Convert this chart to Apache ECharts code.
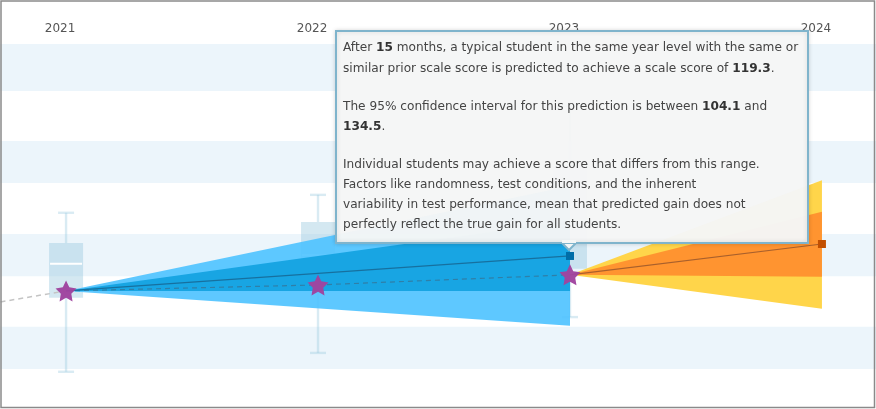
<!DOCTYPE html>
<html>
<head>
<meta charset="utf-8">
<script src="https://cdn.jsdelivr.net/npm/echarts@6/dist/echarts.min.js"></script>
<style>
  html, body { margin: 0; padding: 0; background: #fff; }
  #main { width: 876px; height: 409px; }
</style>
</head>
<body>
<div id="main"></div>
<script>
// band edges, scale score
var bandLow = [155.2, 135.2, 114.9, 94.7];
var bandHigh = [165.4, 144.3, 124.1, 103.9];

// box and whisker per year
var boxYears = [2021, 2022, 2023];
var whiskerHigh = [128.7, 132.6, 152];
var boxHigh = [122.1, 126.7, 139];
var boxMedian = [117.6, 119.5, 127];
var boxLow = [110.2, 113, 116.5];
var whiskerLow = [94.1, 98.2, 106];

// stars (actual scores)
var starYears = [2021, 2022, 2023];
var starScores = [111.7, 113, 115.2];
var priorTrail = [[2020, 102.5], [2021, 111.7]];

// predictions: from year/score to year, outer and inner range
var blueFan = { from: [2021, 111.7], to: 2023, mean: 119.3, lo: 104.1, hi: 134.5, innerLo: 111.7, innerHi: 126.9 };
var orangeFan = { from: [2023, 115.2], to: 2024, mean: 121.9, lo: 107.8, hi: 135.8, innerLo: 114.8, innerHi: 128.9 };

var yearTicks = { min: 2020, max: 2025, step: 1 };

var tipLines = [
  'After {b|15} months, a typical student in the same year level with the same or',
  'similar prior scale score is predicted to achieve a scale score of {b|119.3}.',
  '',
  'The 95% confidence interval for this prediction is between {b|104.1} and',
  '{b|134.5}.',
  '',
  'Individual students may achieve a score that differs from this range.',
  'Factors like randomness, test conditions, and the inherent',
  'variability in test performance, mean that predicted gain does not',
  'perfectly reflect the true gain for all students.'
];
var tipY = [48, 68.5, 0, 106.5, 126.5, 0, 165, 185, 204.5, 224.5];

var myChart = echarts.init(document.getElementById('main'));

function fanItem(fan, lightColor, darkColor) {
  return function (params, api) {
    var a = api.coord(fan.from);
    var lo = api.coord([fan.to, fan.lo]);
    var hi = api.coord([fan.to, fan.hi]);
    var inLo = api.coord([fan.to, fan.innerLo]);
    var inHi = api.coord([fan.to, fan.innerHi]);
    return {
      type: 'group',
      children: [
        { type: 'polygon', shape: { points: [a, hi, lo] }, style: { fill: lightColor } },
        { type: 'polygon', shape: { points: [a, inHi, inLo] }, style: { fill: darkColor } }
      ]
    };
  };
}

function boxItem(params, api) {
  var x = api.value(0);
  var halfBox = 17, halfCap = 8;
  var top = api.coord([x, api.value(1)]);
  var q3 = api.coord([x, api.value(2)]);
  var med = api.coord([x, api.value(3)]);
  var q1 = api.coord([x, api.value(4)]);
  var bottom = api.coord([x, api.value(5)]);
  var soft = 'rgba(160,205,225,0.45)';
  var lineStyle = { stroke: 'rgba(160,205,225,0.4)', lineWidth: 2.4, fill: null };
  return {
    type: 'group',
    children: [
      { type: 'rect', shape: { x: q3[0] - halfBox, y: q3[1], width: halfBox * 2, height: q1[1] - q3[1] }, style: { fill: soft } },
      { type: 'line', shape: { x1: top[0], y1: top[1], x2: q3[0], y2: q3[1] }, style: lineStyle },
      { type: 'line', shape: { x1: q1[0], y1: q1[1], x2: bottom[0], y2: bottom[1] }, style: lineStyle },
      { type: 'line', shape: { x1: top[0] - halfCap, y1: top[1], x2: top[0] + halfCap, y2: top[1] }, style: lineStyle },
      { type: 'line', shape: { x1: bottom[0] - halfCap, y1: bottom[1], x2: bottom[0] + halfCap, y2: bottom[1] }, style: lineStyle },
      { type: 'line', shape: { x1: med[0] - halfBox + 1, y1: med[1], x2: med[0] + halfBox - 1, y2: med[1] }, style: { stroke: '#fff', lineWidth: 2 } }
    ]
  };
}

var starPath = 'path://M50 2L64.7 31.8L97.6 36.5L73.8 59.7L79.4 92.5L50 77L20.6 92.5L26.2 59.7L2.4 36.5L35.3 31.8Z';

var tipFont = '12.15px "DejaVu Sans"';
var tipChildren = [
  { type: 'rect', z: 100, shape: { x: 336, y: 31, width: 472, height: 212 },
    style: { fill: 'rgba(246,247,247,0.97)', stroke: '#7fb4cc', lineWidth: 2, shadowBlur: 4, shadowColor: 'rgba(0,0,0,0.15)' } },
  { type: 'polygon', z: 100, shape: { points: [[562, 243], [569, 250], [576, 243]] },
    style: { fill: '#f4f6f6', stroke: '#7fb4cc', lineWidth: 2 } },
  { type: 'rect', z: 101, shape: { x: 562, y: 240, width: 14, height: 3 }, style: { fill: '#f4f6f6' } },
  { type: 'rect', z: 102, shape: { x: 1, y: 1, width: 873.5, height: 406.5 },
    style: { fill: null, stroke: '#8a8a8a', lineWidth: 1.5 } }
];
tipLines.forEach(function (line, i) {
  if (!line) return;
  tipChildren.push({
    type: 'text', z: 102, x: 343, y: tipY[i],
    style: {
      text: line, font: tipFont, fill: '#444', verticalAlign: 'middle',
      rich: { b: { font: 'bold 12.15px "DejaVu Sans"', fill: '#333' } }
    }
  });
});

myChart.setOption({
  animation: false,
  grid: { outerBoundsMode: 'none', left: -185.9, right: -197.9, top: 0, bottom: 0 },
  xAxis: {
    type: 'value',
    position: 'top',
    min: yearTicks.min,
    max: yearTicks.max,
    interval: yearTicks.step,
    axisLine: { show: false },
    axisTick: { show: false },
    splitLine: { show: false },
    axisLabel: {
      inside: true,
      margin: 23,
      padding: [0, 12, 0, 0],
      color: '#555',
      fontFamily: 'DejaVu Sans',
      fontSize: 12,
      formatter: function (v) { return String(v); }
    }
  },
  yAxis: { type: 'value', min: 86, max: 175, show: false, splitLine: { show: false } },
  graphic: { elements: [{ type: 'group', children: tipChildren }] },
  series: [
    {
      type: 'custom',
      name: 'bands',
      z: 1,
      silent: true,
      data: bandLow.map(function (v, i) { return [v, bandHigh[i]]; }),
      renderItem: function (params, api) {
        var p0 = api.coord([yearTicks.min, api.value(1)]);
        var p1 = api.coord([yearTicks.max, api.value(0)]);
        return { type: 'rect', shape: { x: p0[0], y: p0[1], width: p1[0] - p0[0], height: p1[1] - p0[1] }, style: { fill: '#ecf5fb' } };
      }
    },
    {
      type: 'custom',
      name: 'boxes',
      z: 2,
      data: boxYears.map(function (y, i) {
        return [y, whiskerHigh[i], boxHigh[i], boxMedian[i], boxLow[i], whiskerLow[i]];
      }),
      renderItem: boxItem
    },
    { type: 'custom', name: 'blue fan', z: 3, data: [[blueFan.to, blueFan.mean]], renderItem: fanItem(blueFan, 'rgba(80,195,255,0.92)', '#18a5e3') },
    { type: 'custom', name: 'orange fan', z: 3, data: [[orangeFan.to, orangeFan.mean]], renderItem: fanItem(orangeFan, '#ffd54a', '#ff9430') },
    {
      type: 'line', name: 'prior', z: 4, data: priorTrail, symbol: 'none',
      lineStyle: { color: '#c4c4c4', width: 1.5, type: [5, 4] }
    },
    {
      type: 'line', name: 'actual', z: 4,
      data: starYears.map(function (y, i) { return [y, starScores[i]]; }),
      symbol: 'none',
      lineStyle: { color: '#2f7fa8', width: 1.2, type: [5, 4] }
    },
    {
      type: 'line', name: 'blue predicted', z: 4,
      data: [blueFan.from, [blueFan.to, blueFan.mean]],
      symbol: 'none',
      lineStyle: { color: '#17709f', width: 1.2 }
    },
    {
      type: 'line', name: 'orange predicted', z: 4,
      data: [orangeFan.from, [orangeFan.to, orangeFan.mean]],
      symbol: 'none',
      lineStyle: { color: '#a9602c', width: 1.2 }
    },
    {
      type: 'scatter', name: 'blue end', z: 5,
      data: [[blueFan.to, blueFan.mean]],
      symbol: 'rect', symbolSize: 8,
      itemStyle: { color: '#006da8', opacity: 1 }
    },
    {
      type: 'scatter', name: 'orange end', z: 5,
      data: [[orangeFan.to, orangeFan.mean]],
      symbol: 'rect', symbolSize: 8,
      itemStyle: { color: '#c24f00', opacity: 1 }
    },
    {
      type: 'scatter', name: 'stars', z: 6,
      data: starYears.map(function (y, i) { return [y, starScores[i]]; }),
      symbol: starPath, symbolSize: 21,
      itemStyle: { color: '#a0449f', opacity: 0.97 }
    }
  ]
});
</script>
</body>
</html>
